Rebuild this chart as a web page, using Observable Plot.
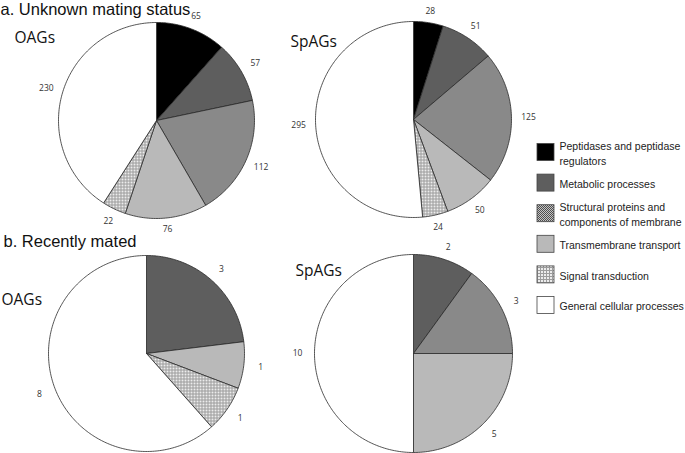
<!DOCTYPE html>
<html>
<head>
<meta charset="utf-8">
<script src="https://cdn.jsdelivr.net/npm/d3@7"></script>
<script src="https://cdn.jsdelivr.net/npm/@observablehq/plot@0.6"></script>
<style>
  html, body { margin: 0; padding: 0; background: #fff; }
</style>
</head>
<body>
<div id="chart"></div>
<script>
// ---- Data ----
const categories = [
  "Peptidases and peptidase regulators",
  "Metabolic processes",
  "Structural proteins and components of membrane",
  "Transmembrane transport",
  "Signal transduction",
  "General cellular processes"
];
const legendLabels = [
  "Peptidases and peptidase\nregulators",
  "Metabolic processes",
  "Structural proteins and\ncomponents of membrane",
  "Transmembrane transport",
  "Signal transduction",
  "General cellular processes"
];
const panelTitles = ["a. Unknown mating status", "b. Recently mated"];
const pieNames = ["OAGs", "SpAGs", "OAGs", "SpAGs"];
const oagsUnknown  = [65, 57, 112, 76, 22, 230];
const spagsUnknown = [28, 51, 125, 50, 24, 295];
const oagsMated    = [0, 3, 0, 1, 1, 8];
const spagsMated   = [0, 2, 3, 5, 0, 10];

// ---- Layout (pixel-like data units) ----
const W = 685, H = 453;
const pies = [
  {id: "aO", values: oagsUnknown,  cx: 156, cy: 120, r: 98, name: pieNames[0], nx: 14,  ny: 38},
  {id: "aS", values: spagsUnknown, cx: 413, cy: 119, r: 98, name: pieNames[1], nx: 290, ny: 42},
  {id: "bO", values: oagsMated,    cx: 146, cy: 353, r: 98, name: pieNames[2], nx: 1,   ny: 300},
  {id: "bS", values: spagsMated,   cx: 413, cy: 353, r: 99, name: pieNames[3], nx: 295, ny: 271}
];
const colorRange = ["#000000", "#5e5e5e", "url(#patStruct)", "#b9b9b9", "url(#patSignal)", "#ffffff"];

// ---- Build slice polygons and labels ----
const slicePts = [];
const labels = [];
for (const p of pies) {
  const arcs = d3.pie().sort(null).value(d => d.v)(p.values.map((v, i) => ({v, cat: categories[i]})));
  arcs.forEach((a, k) => {
    if (a.data.v <= 0) return;
    const key = p.id + "-" + k;
    const pt = (ang, rr) => ({x: p.cx + rr * Math.sin(ang), y: p.cy - rr * Math.cos(ang)});
    slicePts.push({key, cat: a.data.cat, x: p.cx, y: p.cy});
    const n = Math.max(2, Math.ceil((a.endAngle - a.startAngle) / (Math.PI / 180)));
    for (let j = 0; j <= n; j++) {
      const ang = a.startAngle + (a.endAngle - a.startAngle) * j / n;
      slicePts.push({key, cat: a.data.cat, ...pt(ang, p.r)});
    }
    slicePts.push({key, cat: a.data.cat, x: p.cx, y: p.cy});
    const mid = (a.startAngle + a.endAngle) / 2;
    const lr = p.r + 11 + 6 * Math.abs(Math.sin(mid));
    labels.push({text: String(a.data.v), x: p.cx + lr * Math.sin(mid), y: p.cy - lr * Math.cos(mid)});
  });
}

const legendRows = categories.map((c, i) => ({cat: c, label: legendLabels[i], yc: 152 + i * 30.6}));

const chart = Plot.plot({
  width: W,
  height: H,
  margin: 0,
  x: {domain: [0, W], range: [0, W], axis: null},
  y: {domain: [0, H], range: [0, H], axis: null},
  color: {type: "ordinal", domain: categories, range: colorRange},
  style: {background: "#fff", fontFamily: "Liberation Sans, Arial, sans-serif"},
  marks: [
    Plot.line(slicePts, {x: "x", y: "y", z: "key", fill: "cat", stroke: "#2a2a2a", strokeWidth: 0.8, strokeLinejoin: "round"}),
    Plot.text(labels, {x: "x", y: "y", text: "text", fontSize: 8.5, fontFamily: "Open Sans, sans-serif", fill: "#333"}),
    Plot.text(pies, {x: "nx", y: "ny", text: "name", textAnchor: "start", fontSize: 15.5, fontFamily: "Open Sans, sans-serif", fill: "#111"}),
    Plot.text([panelTitles[0]], {x: [0], y: [9], text: d => d, textAnchor: "start", fontSize: 16.5, fill: "#111"}),
    Plot.text([panelTitles[1]], {x: [3], y: [241], text: d => d, textAnchor: "start", fontSize: 16.5, fill: "#111"}),
    Plot.rect(legendRows, {x1: () => 537, x2: () => 554, y1: d => d.yc - 8.5, y2: d => d.yc + 8.5, fill: "cat", stroke: "#444", strokeWidth: 0.8}),
    Plot.text(legendRows, {x: () => 559, y: "yc", text: "label", textAnchor: "start", fontSize: 10.5, lineHeight: 1.4, fill: "#222"})
  ]
});

const defs = d3.select(chart).insert("defs", ":first-child");
const ps = defs.append("pattern").attr("id", "patStruct").attr("patternUnits", "userSpaceOnUse").attr("width", 2).attr("height", 2);
ps.append("rect").attr("width", 2).attr("height", 2).attr("fill", "#c4c4c4");
ps.append("rect").attr("x", 0).attr("y", 0).attr("width", 1).attr("height", 1).attr("fill", "#4e4e4e");
ps.append("rect").attr("x", 1).attr("y", 1).attr("width", 1).attr("height", 1).attr("fill", "#4e4e4e");
const pg = defs.append("pattern").attr("id", "patSignal").attr("patternUnits", "userSpaceOnUse").attr("width", 3).attr("height", 3);
pg.append("rect").attr("width", 3).attr("height", 3).attr("fill", "#ececec");
pg.append("rect").attr("x", 0).attr("y", 0).attr("width", 3).attr("height", 1).attr("fill", "#9c9c9c");
pg.append("rect").attr("x", 0).attr("y", 0).attr("width", 1).attr("height", 3).attr("fill", "#9c9c9c");

document.getElementById("chart").appendChild(chart);
</script>
</body>
</html>
